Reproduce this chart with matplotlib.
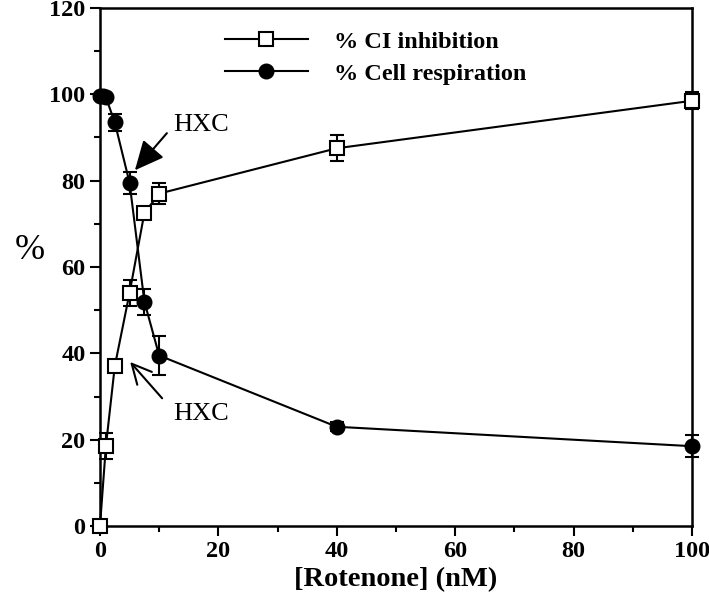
import matplotlib.pyplot as plt
from matplotlib.ticker import MultipleLocator

plt.rcParams['font.family'] = ['Liberation Serif', 'DejaVu Serif']

# % CI inhibition (open squares)
ci_x = [0, 1, 2.5, 5, 7.5, 10, 40, 100]
ci_y = [0, 18.5, 37, 54, 72.5, 77, 87.5, 98.5]
ci_err = [0, 3, 1, 3, 1, 2.5, 3, 2]

# % Cell respiration (filled circles)
resp_x = [0, 0.5, 1, 2.5, 5, 7.5, 10, 40, 100]
resp_y = [99.5, 99.5, 99.3, 93.5, 79.5, 52, 39.5, 23, 18.5]
resp_err = [0.5, 0.5, 0.5, 2, 2.5, 3, 4.5, 1, 2.5]

fig = plt.figure(figsize=(7.09, 6.11), dpi=100)
ax = fig.add_axes([0.141, 0.139, 0.835, 0.848])

c1 = ax.errorbar(ci_x, ci_y, yerr=ci_err, fmt='-s', color='black', mfc='white', mec='black',
                 ms=10, mew=1.5, lw=1.5, capsize=5, elinewidth=1.5, capthick=1.5,
                 clip_on=False, zorder=3)
c2 = ax.errorbar(resp_x, resp_y, yerr=resp_err, fmt='-o', color='black', mfc='black', mec='black',
                 ms=10.5, lw=1.5, capsize=5, elinewidth=1.5, capthick=1.5,
                 clip_on=False, zorder=2)

ax.set_xlim(0, 100)
ax.set_ylim(0, 120)
ax.xaxis.set_major_locator(MultipleLocator(20))
ax.xaxis.set_minor_locator(MultipleLocator(10))
ax.yaxis.set_major_locator(MultipleLocator(20))
ax.yaxis.set_minor_locator(MultipleLocator(10))
ax.tick_params(which='major', direction='out', length=7, width=1.5, labelsize=17.5)
ax.tick_params(which='minor', direction='out', length=4, width=1.5)
for lab in ax.get_xticklabels() + ax.get_yticklabels():
    lab.set_fontweight('bold')
for sp in ax.spines.values():
    sp.set_linewidth(1.8)

ax.set_xlabel('[Rotenone] (nM)', fontsize=20.5, fontweight='bold')
ax.set_ylabel('%', fontsize=26, rotation=0, labelpad=14)

# annotations
ax.annotate('', xy=(5.9, 82.4), xytext=(11.3, 91),
            arrowprops=dict(arrowstyle='-|>,head_length=0.9,head_width=0.42', color='black',
                            lw=1.5, shrinkA=0, shrinkB=0, mutation_scale=20))
ax.text(17.1, 93.0, 'HXC', fontsize=19, ha='center', va='center')
ax.annotate('', xy=(5.1, 38.0), xytext=(10.5, 29.6),
            arrowprops=dict(arrowstyle='->,head_length=0.7,head_width=0.35', color='black',
                            lw=1.5, shrinkA=0, shrinkB=0, mutation_scale=20))
ax.text(17.1, 25.9, 'HXC', fontsize=19, ha='center', va='center')

leg = ax.legend([c1[0], c2[0]], ['% CI inhibition', '% Cell respiration'],
                loc='upper left', bbox_to_anchor=(0.211, 0.956), frameon=False,
                borderpad=0, borderaxespad=0, prop={'weight': 'bold', 'size': 17.5},
                handlelength=3.4, handletextpad=1.1, labelspacing=0.42, numpoints=1)

fig.savefig('out.png', dpi=100)
